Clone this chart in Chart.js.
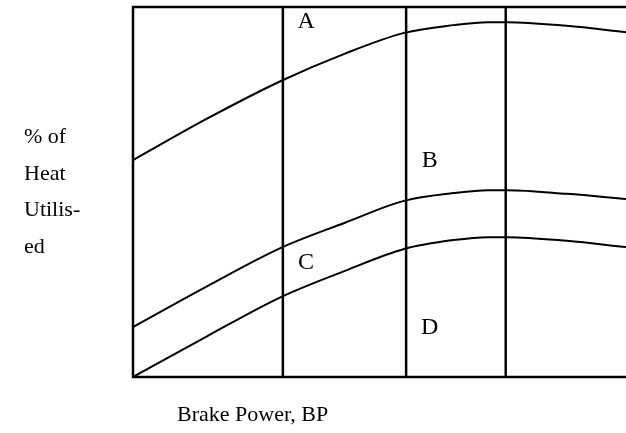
<!DOCTYPE html>
<html>
<head>
<meta charset="utf-8">
<script src="https://cdn.jsdelivr.net/npm/chart.js@4/dist/chart.umd.min.js"></script>
<style>
  html, body { margin: 0; padding: 0; background: #fff; }
  #wrap { width: 626px; height: 433px; position: relative; }
</style>
</head>
<body>
<div id="wrap"><canvas id="chart"></canvas></div>
<script>
// x positions (0..100 across the plot) where the curves were read
const xs = [0, 15, 30, 43, 55, 65, 72, 76, 88, 100];
// % of heat utilised
const curveA = [58.6, 69.8, 80, 87.4, 93, 95.1, 95.9, 95.9, 94.9, 93.2];
const curveB = [13.5, 24.5, 34.9, 41.7, 47.6, 49.7, 50.5, 50.5, 49.5, 48.1];
const curveC = [0, 11.0, 21.6, 28.7, 34.6, 37.0, 37.8, 37.8, 36.8, 35.1];
// vertical divider lines
const dividers = [30.4, 55.4, 75.6];
// region letters
const regionLabels = ["A", "B", "C", "D"];
const regionX = [35.1, 60.2, 35.1, 60.2];
const regionY = [95.9, 58.4, 30.8, 13.2];
const yTitle = ["% of", "Heat", "Utilis-", "ed"];
const xTitle = "Brake Power, BP";

const serif = "'Liberation Serif', 'Times New Roman', serif";

const curveSet = (vals) => ({
  data: xs.map((x, i) => ({ x, y: vals[i] })),
  borderColor: "#000",
  borderWidth: 2,
  pointRadius: 0,
  cubicInterpolationMode: "monotone",
  fill: false,
});

const datasets = [curveSet(curveA), curveSet(curveB), curveSet(curveC)];
dividers.forEach((d) => {
  datasets.push({
    data: [{ x: d, y: 0 }, { x: d, y: 100 }],
    borderColor: "#000",
    borderWidth: 2.5,
    pointRadius: 0,
    tension: 0,
  });
});

const decor = {
  id: "decor",
  afterDatasetsDraw(chart) {
    const { ctx, chartArea: a, scales } = chart;
    ctx.save();
    // frame: left, top, bottom
    ctx.strokeStyle = "#000";
    ctx.lineWidth = 2.5;
    ctx.beginPath();
    ctx.moveTo(a.right, a.top);
    ctx.lineTo(a.left, a.top);
    ctx.lineTo(a.left, a.bottom);
    ctx.lineTo(a.right, a.bottom);
    ctx.stroke();

    ctx.fillStyle = "#000";
    ctx.textBaseline = "middle";
    ctx.textAlign = "center";
    ctx.font = "24px " + serif;
    regionLabels.forEach((t, i) => {
      ctx.fillText(t, scales.x.getPixelForValue(regionX[i]), scales.y.getPixelForValue(regionY[i]));
    });

    ctx.font = "22px " + serif;
    ctx.textAlign = "left";
    ctx.textBaseline = "alphabetic";
    yTitle.forEach((t, i) => ctx.fillText(t, 24, 143 + i * 36.5));
    ctx.fillText(xTitle, 177, 421);
    ctx.restore();
  },
};

new Chart(document.getElementById("chart"), {
  type: "line",
  data: { datasets },
  options: {
    responsive: true,
    maintainAspectRatio: false,
    animation: false,
    layout: { padding: { left: 133, top: 7, right: 0, bottom: 56 } },
    plugins: { legend: { display: false }, tooltip: { enabled: false } },
    scales: {
      x: { type: "linear", min: 0, max: 100, display: false },
      y: { type: "linear", min: 0, max: 100, display: false },
    },
  },
  plugins: [decor],
});
</script>
</body>
</html>
